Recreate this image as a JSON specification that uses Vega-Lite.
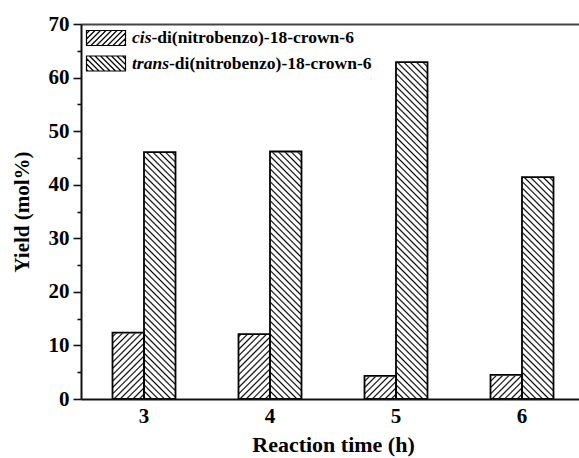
{
  "$schema": "https://vega.github.io/schema/vega-lite/v6.json",
  "width": 498,
  "height": 375,
  "autosize": {"type": "none"},
  "padding": {"left": 81, "top": 24, "right": 0, "bottom": 59},
  "background": "white",
  "config": {
    "view": {"stroke": null},
    "font": "Liberation Serif",
    "axis": {"grid": false, "zindex": 1}
  },
  "data": {
    "values": [
      {"time": "3", "series": "cis-di(nitrobenzo)-18-crown-6", "yield": 12.4},
      {"time": "3", "series": "trans-di(nitrobenzo)-18-crown-6", "yield": 46.1},
      {"time": "4", "series": "cis-di(nitrobenzo)-18-crown-6", "yield": 12.1},
      {"time": "4", "series": "trans-di(nitrobenzo)-18-crown-6", "yield": 46.2},
      {"time": "5", "series": "cis-di(nitrobenzo)-18-crown-6", "yield": 4.3},
      {"time": "5", "series": "trans-di(nitrobenzo)-18-crown-6", "yield": 62.9},
      {"time": "6", "series": "cis-di(nitrobenzo)-18-crown-6", "yield": 4.5},
      {"time": "6", "series": "trans-di(nitrobenzo)-18-crown-6", "yield": 41.4}
    ]
  },
  "resolve": {"axis": {"x": "independent", "y": "independent"}},
  "layer": [
    {
      "transform": [{"filter": "indexof(datum.series, 'cis') === 0"}],
      "mark": {
        "type": "bar",
        "stroke": null,
        "fill": {
          "gradient": "linear", "x1": 0, "y1": 0, "x2": 0.1413, "y2": 1.6819,
          "stops": [
{"offset":0,"color":"#fff"},{"offset":0.0025,"color":"#000"},{"offset":0.005,"color":"#fff"},
{"offset":0.01,"color":"#fff"},{"offset":0.0125,"color":"#000"},{"offset":0.015,"color":"#fff"},
{"offset":0.02,"color":"#fff"},{"offset":0.0225,"color":"#000"},{"offset":0.025,"color":"#fff"},
{"offset":0.03,"color":"#fff"},{"offset":0.0325,"color":"#000"},{"offset":0.035,"color":"#fff"},
{"offset":0.04,"color":"#fff"},{"offset":0.0425,"color":"#000"},{"offset":0.045,"color":"#fff"},
{"offset":0.05,"color":"#fff"},{"offset":0.0525,"color":"#000"},{"offset":0.055,"color":"#fff"},
{"offset":0.06,"color":"#fff"},{"offset":0.0625,"color":"#000"},{"offset":0.065,"color":"#fff"},
{"offset":0.07,"color":"#fff"},{"offset":0.0725,"color":"#000"},{"offset":0.075,"color":"#fff"},
{"offset":0.08,"color":"#fff"},{"offset":0.0825,"color":"#000"},{"offset":0.085,"color":"#fff"},
{"offset":0.09,"color":"#fff"},{"offset":0.0925,"color":"#000"},{"offset":0.095,"color":"#fff"},
{"offset":0.1,"color":"#fff"},{"offset":0.1025,"color":"#000"},{"offset":0.105,"color":"#fff"},
{"offset":0.11,"color":"#fff"},{"offset":0.1125,"color":"#000"},{"offset":0.115,"color":"#fff"},
{"offset":0.12,"color":"#fff"},{"offset":0.1225,"color":"#000"},{"offset":0.125,"color":"#fff"},
{"offset":0.13,"color":"#fff"},{"offset":0.1325,"color":"#000"},{"offset":0.135,"color":"#fff"},
{"offset":0.14,"color":"#fff"},{"offset":0.1425,"color":"#000"},{"offset":0.145,"color":"#fff"},
{"offset":0.15,"color":"#fff"},{"offset":0.1525,"color":"#000"},{"offset":0.155,"color":"#fff"},
{"offset":0.16,"color":"#fff"},{"offset":0.1625,"color":"#000"},{"offset":0.165,"color":"#fff"},
{"offset":0.17,"color":"#fff"},{"offset":0.1725,"color":"#000"},{"offset":0.175,"color":"#fff"},
{"offset":0.18,"color":"#fff"},{"offset":0.1825,"color":"#000"},{"offset":0.185,"color":"#fff"},
{"offset":0.19,"color":"#fff"},{"offset":0.1925,"color":"#000"},{"offset":0.195,"color":"#fff"},
{"offset":0.2,"color":"#fff"},{"offset":0.2025,"color":"#000"},{"offset":0.205,"color":"#fff"},
{"offset":0.21,"color":"#fff"},{"offset":0.2125,"color":"#000"},{"offset":0.215,"color":"#fff"},
{"offset":0.22,"color":"#fff"},{"offset":0.2225,"color":"#000"},{"offset":0.225,"color":"#fff"},
{"offset":0.23,"color":"#fff"},{"offset":0.2325,"color":"#000"},{"offset":0.235,"color":"#fff"},
{"offset":0.24,"color":"#fff"},{"offset":0.2425,"color":"#000"},{"offset":0.245,"color":"#fff"},
{"offset":0.25,"color":"#fff"},{"offset":0.2525,"color":"#000"},{"offset":0.255,"color":"#fff"},
{"offset":0.26,"color":"#fff"},{"offset":0.2625,"color":"#000"},{"offset":0.265,"color":"#fff"},
{"offset":0.27,"color":"#fff"},{"offset":0.2725,"color":"#000"},{"offset":0.275,"color":"#fff"},
{"offset":0.28,"color":"#fff"},{"offset":0.2825,"color":"#000"},{"offset":0.285,"color":"#fff"},
{"offset":0.29,"color":"#fff"},{"offset":0.2925,"color":"#000"},{"offset":0.295,"color":"#fff"},
{"offset":0.3,"color":"#fff"},{"offset":0.3025,"color":"#000"},{"offset":0.305,"color":"#fff"},
{"offset":0.31,"color":"#fff"},{"offset":0.3125,"color":"#000"},{"offset":0.315,"color":"#fff"},
{"offset":0.32,"color":"#fff"},{"offset":0.3225,"color":"#000"},{"offset":0.325,"color":"#fff"},
{"offset":0.33,"color":"#fff"},{"offset":0.3325,"color":"#000"},{"offset":0.335,"color":"#fff"},
{"offset":0.34,"color":"#fff"},{"offset":0.3425,"color":"#000"},{"offset":0.345,"color":"#fff"},
{"offset":0.35,"color":"#fff"},{"offset":0.3525,"color":"#000"},{"offset":0.355,"color":"#fff"},
{"offset":0.36,"color":"#fff"},{"offset":0.3625,"color":"#000"},{"offset":0.365,"color":"#fff"},
{"offset":0.37,"color":"#fff"},{"offset":0.3725,"color":"#000"},{"offset":0.375,"color":"#fff"},
{"offset":0.38,"color":"#fff"},{"offset":0.3825,"color":"#000"},{"offset":0.385,"color":"#fff"},
{"offset":0.39,"color":"#fff"},{"offset":0.3925,"color":"#000"},{"offset":0.395,"color":"#fff"},
{"offset":0.4,"color":"#fff"},{"offset":0.4025,"color":"#000"},{"offset":0.405,"color":"#fff"},
{"offset":0.41,"color":"#fff"},{"offset":0.4125,"color":"#000"},{"offset":0.415,"color":"#fff"},
{"offset":0.42,"color":"#fff"},{"offset":0.4225,"color":"#000"},{"offset":0.425,"color":"#fff"},
{"offset":0.43,"color":"#fff"},{"offset":0.4325,"color":"#000"},{"offset":0.435,"color":"#fff"},
{"offset":0.44,"color":"#fff"},{"offset":0.4425,"color":"#000"},{"offset":0.445,"color":"#fff"},
{"offset":0.45,"color":"#fff"},{"offset":0.4525,"color":"#000"},{"offset":0.455,"color":"#fff"},
{"offset":0.46,"color":"#fff"},{"offset":0.4625,"color":"#000"},{"offset":0.465,"color":"#fff"},
{"offset":0.47,"color":"#fff"},{"offset":0.4725,"color":"#000"},{"offset":0.475,"color":"#fff"},
{"offset":0.48,"color":"#fff"},{"offset":0.4825,"color":"#000"},{"offset":0.485,"color":"#fff"},
{"offset":0.49,"color":"#fff"},{"offset":0.4925,"color":"#000"},{"offset":0.495,"color":"#fff"},
{"offset":0.5,"color":"#fff"},{"offset":0.5025,"color":"#000"},{"offset":0.505,"color":"#fff"},
{"offset":0.51,"color":"#fff"},{"offset":0.5125,"color":"#000"},{"offset":0.515,"color":"#fff"},
{"offset":0.52,"color":"#fff"},{"offset":0.5225,"color":"#000"},{"offset":0.525,"color":"#fff"},
{"offset":0.53,"color":"#fff"},{"offset":0.5325,"color":"#000"},{"offset":0.535,"color":"#fff"},
{"offset":0.54,"color":"#fff"},{"offset":0.5425,"color":"#000"},{"offset":0.545,"color":"#fff"},
{"offset":0.55,"color":"#fff"},{"offset":0.5525,"color":"#000"},{"offset":0.555,"color":"#fff"},
{"offset":0.56,"color":"#fff"},{"offset":0.5625,"color":"#000"},{"offset":0.565,"color":"#fff"},
{"offset":0.57,"color":"#fff"},{"offset":0.5725,"color":"#000"},{"offset":0.575,"color":"#fff"},
{"offset":0.58,"color":"#fff"},{"offset":0.5825,"color":"#000"},{"offset":0.585,"color":"#fff"},
{"offset":0.59,"color":"#fff"},{"offset":0.5925,"color":"#000"},{"offset":0.595,"color":"#fff"},
{"offset":0.6,"color":"#fff"},{"offset":0.6025,"color":"#000"},{"offset":0.605,"color":"#fff"},
{"offset":0.61,"color":"#fff"},{"offset":0.6125,"color":"#000"},{"offset":0.615,"color":"#fff"},
{"offset":0.62,"color":"#fff"},{"offset":0.6225,"color":"#000"},{"offset":0.625,"color":"#fff"},
{"offset":0.63,"color":"#fff"},{"offset":0.6325,"color":"#000"},{"offset":0.635,"color":"#fff"}
          ]
        }
      },
      "encoding": {
        "x": {
          "field": "time", "type": "ordinal",
          "scale": {"range": [0, 504], "paddingInner": 0.5, "paddingOuter": 0.25},
          "axis": {"orient": "top", "labels": false, "ticks": false, "tickSize": 0, "title": null, "domainColor": "#444", "domainWidth": 2, "zindex": 1}
        },
        "xOffset": {"field": "series", "type": "nominal", "scale": {"paddingInner": 0}},
        "y": {"datum": 70, "type": "quantitative", "scale": {"domain": [0, 70]}, "axis": null}
      }
    },
    {
      "transform": [{"filter": "indexof(datum.series, 'trans') === 0"}],
      "mark": {
        "type": "bar",
        "stroke": null,
        "fill": {
          "gradient": "linear", "x1": 0, "y1": 1, "x2": 0.1413, "y2": -0.6819,
          "stops": [
{"offset":0,"color":"#fff"},{"offset":0.0025,"color":"#000"},{"offset":0.005,"color":"#fff"},
{"offset":0.01,"color":"#fff"},{"offset":0.0125,"color":"#000"},{"offset":0.015,"color":"#fff"},
{"offset":0.02,"color":"#fff"},{"offset":0.0225,"color":"#000"},{"offset":0.025,"color":"#fff"},
{"offset":0.03,"color":"#fff"},{"offset":0.0325,"color":"#000"},{"offset":0.035,"color":"#fff"},
{"offset":0.04,"color":"#fff"},{"offset":0.0425,"color":"#000"},{"offset":0.045,"color":"#fff"},
{"offset":0.05,"color":"#fff"},{"offset":0.0525,"color":"#000"},{"offset":0.055,"color":"#fff"},
{"offset":0.06,"color":"#fff"},{"offset":0.0625,"color":"#000"},{"offset":0.065,"color":"#fff"},
{"offset":0.07,"color":"#fff"},{"offset":0.0725,"color":"#000"},{"offset":0.075,"color":"#fff"},
{"offset":0.08,"color":"#fff"},{"offset":0.0825,"color":"#000"},{"offset":0.085,"color":"#fff"},
{"offset":0.09,"color":"#fff"},{"offset":0.0925,"color":"#000"},{"offset":0.095,"color":"#fff"},
{"offset":0.1,"color":"#fff"},{"offset":0.1025,"color":"#000"},{"offset":0.105,"color":"#fff"},
{"offset":0.11,"color":"#fff"},{"offset":0.1125,"color":"#000"},{"offset":0.115,"color":"#fff"},
{"offset":0.12,"color":"#fff"},{"offset":0.1225,"color":"#000"},{"offset":0.125,"color":"#fff"},
{"offset":0.13,"color":"#fff"},{"offset":0.1325,"color":"#000"},{"offset":0.135,"color":"#fff"},
{"offset":0.14,"color":"#fff"},{"offset":0.1425,"color":"#000"},{"offset":0.145,"color":"#fff"},
{"offset":0.15,"color":"#fff"},{"offset":0.1525,"color":"#000"},{"offset":0.155,"color":"#fff"},
{"offset":0.16,"color":"#fff"},{"offset":0.1625,"color":"#000"},{"offset":0.165,"color":"#fff"},
{"offset":0.17,"color":"#fff"},{"offset":0.1725,"color":"#000"},{"offset":0.175,"color":"#fff"},
{"offset":0.18,"color":"#fff"},{"offset":0.1825,"color":"#000"},{"offset":0.185,"color":"#fff"},
{"offset":0.19,"color":"#fff"},{"offset":0.1925,"color":"#000"},{"offset":0.195,"color":"#fff"},
{"offset":0.2,"color":"#fff"},{"offset":0.2025,"color":"#000"},{"offset":0.205,"color":"#fff"},
{"offset":0.21,"color":"#fff"},{"offset":0.2125,"color":"#000"},{"offset":0.215,"color":"#fff"},
{"offset":0.22,"color":"#fff"},{"offset":0.2225,"color":"#000"},{"offset":0.225,"color":"#fff"},
{"offset":0.23,"color":"#fff"},{"offset":0.2325,"color":"#000"},{"offset":0.235,"color":"#fff"},
{"offset":0.24,"color":"#fff"},{"offset":0.2425,"color":"#000"},{"offset":0.245,"color":"#fff"},
{"offset":0.25,"color":"#fff"},{"offset":0.2525,"color":"#000"},{"offset":0.255,"color":"#fff"},
{"offset":0.26,"color":"#fff"},{"offset":0.2625,"color":"#000"},{"offset":0.265,"color":"#fff"},
{"offset":0.27,"color":"#fff"},{"offset":0.2725,"color":"#000"},{"offset":0.275,"color":"#fff"},
{"offset":0.28,"color":"#fff"},{"offset":0.2825,"color":"#000"},{"offset":0.285,"color":"#fff"},
{"offset":0.29,"color":"#fff"},{"offset":0.2925,"color":"#000"},{"offset":0.295,"color":"#fff"},
{"offset":0.3,"color":"#fff"},{"offset":0.3025,"color":"#000"},{"offset":0.305,"color":"#fff"},
{"offset":0.31,"color":"#fff"},{"offset":0.3125,"color":"#000"},{"offset":0.315,"color":"#fff"},
{"offset":0.32,"color":"#fff"},{"offset":0.3225,"color":"#000"},{"offset":0.325,"color":"#fff"},
{"offset":0.33,"color":"#fff"},{"offset":0.3325,"color":"#000"},{"offset":0.335,"color":"#fff"},
{"offset":0.34,"color":"#fff"},{"offset":0.3425,"color":"#000"},{"offset":0.345,"color":"#fff"},
{"offset":0.35,"color":"#fff"},{"offset":0.3525,"color":"#000"},{"offset":0.355,"color":"#fff"},
{"offset":0.36,"color":"#fff"},{"offset":0.3625,"color":"#000"},{"offset":0.365,"color":"#fff"},
{"offset":0.37,"color":"#fff"},{"offset":0.3725,"color":"#000"},{"offset":0.375,"color":"#fff"},
{"offset":0.38,"color":"#fff"},{"offset":0.3825,"color":"#000"},{"offset":0.385,"color":"#fff"},
{"offset":0.39,"color":"#fff"},{"offset":0.3925,"color":"#000"},{"offset":0.395,"color":"#fff"},
{"offset":0.4,"color":"#fff"},{"offset":0.4025,"color":"#000"},{"offset":0.405,"color":"#fff"},
{"offset":0.41,"color":"#fff"},{"offset":0.4125,"color":"#000"},{"offset":0.415,"color":"#fff"},
{"offset":0.42,"color":"#fff"},{"offset":0.4225,"color":"#000"},{"offset":0.425,"color":"#fff"},
{"offset":0.43,"color":"#fff"},{"offset":0.4325,"color":"#000"},{"offset":0.435,"color":"#fff"},
{"offset":0.44,"color":"#fff"},{"offset":0.4425,"color":"#000"},{"offset":0.445,"color":"#fff"},
{"offset":0.45,"color":"#fff"},{"offset":0.4525,"color":"#000"},{"offset":0.455,"color":"#fff"},
{"offset":0.46,"color":"#fff"},{"offset":0.4625,"color":"#000"},{"offset":0.465,"color":"#fff"},
{"offset":0.47,"color":"#fff"},{"offset":0.4725,"color":"#000"},{"offset":0.475,"color":"#fff"},
{"offset":0.48,"color":"#fff"},{"offset":0.4825,"color":"#000"},{"offset":0.485,"color":"#fff"},
{"offset":0.49,"color":"#fff"},{"offset":0.4925,"color":"#000"},{"offset":0.495,"color":"#fff"},
{"offset":0.5,"color":"#fff"},{"offset":0.5025,"color":"#000"},{"offset":0.505,"color":"#fff"},
{"offset":0.51,"color":"#fff"},{"offset":0.5125,"color":"#000"},{"offset":0.515,"color":"#fff"},
{"offset":0.52,"color":"#fff"},{"offset":0.5225,"color":"#000"},{"offset":0.525,"color":"#fff"},
{"offset":0.53,"color":"#fff"},{"offset":0.5325,"color":"#000"},{"offset":0.535,"color":"#fff"},
{"offset":0.54,"color":"#fff"},{"offset":0.5425,"color":"#000"},{"offset":0.545,"color":"#fff"},
{"offset":0.55,"color":"#fff"},{"offset":0.5525,"color":"#000"},{"offset":0.555,"color":"#fff"},
{"offset":0.56,"color":"#fff"},{"offset":0.5625,"color":"#000"},{"offset":0.565,"color":"#fff"},
{"offset":0.57,"color":"#fff"},{"offset":0.5725,"color":"#000"},{"offset":0.575,"color":"#fff"},
{"offset":0.58,"color":"#fff"},{"offset":0.5825,"color":"#000"},{"offset":0.585,"color":"#fff"},
{"offset":0.59,"color":"#fff"},{"offset":0.5925,"color":"#000"},{"offset":0.595,"color":"#fff"},
{"offset":0.6,"color":"#fff"},{"offset":0.6025,"color":"#000"},{"offset":0.605,"color":"#fff"},
{"offset":0.61,"color":"#fff"},{"offset":0.6125,"color":"#000"},{"offset":0.615,"color":"#fff"},
{"offset":0.62,"color":"#fff"},{"offset":0.6225,"color":"#000"},{"offset":0.625,"color":"#fff"},
{"offset":0.63,"color":"#fff"},{"offset":0.6325,"color":"#000"},{"offset":0.635,"color":"#fff"}
          ]
        }
      },
      "encoding": {
        "x": {"field": "time", "type": "ordinal", "scale": {"range": [0, 504], "paddingInner": 0.5, "paddingOuter": 0.25}, "axis": null},
        "xOffset": {"field": "series", "type": "nominal", "scale": {"paddingInner": 0}},
        "y": {"datum": 70, "type": "quantitative", "axis": null}
      }
    },
    {
      "mark": {"type": "bar", "fill": "#fff", "stroke": "#fff", "strokeWidth": 1.5},
      "encoding": {
        "x": {"field": "time", "type": "ordinal", "scale": {"range": [0, 504], "paddingInner": 0.5, "paddingOuter": 0.25}, "axis": null},
        "xOffset": {"field": "series", "type": "nominal", "scale": {"paddingInner": 0}},
        "y": {
          "field": "yield", "type": "quantitative", "stack": null,
          "axis": {
            "orient": "left", "values": [5, 15, 25, 35, 45, 55, 65],
            "labels": false, "domain": false, "title": null,
            "tickSize": 4, "tickWidth": 1.6, "tickColor": "#111", "zindex": 1
          }
        },
        "y2": {"datum": 70},
        "opacity": {
          "field": "series", "type": "nominal",
          "scale": {"domain": ["cis-di(nitrobenzo)-18-crown-6", "trans-di(nitrobenzo)-18-crown-6"], "range": [1, 1]},
          "legend": {
            "orient": "none", "legendX": 14, "legendY": 3, "title": null, "padding": 0,
            "symbolSize": 400, "symbolStrokeWidth": 1.2, "symbolOpacity": 0,
            "symbolType": "M-1.95,-0.75L1.95,-0.75L1.95,0.75L-1.95,0.75Z",
            "labelFont": "Liberation Serif", "labelFontSize": 17.5, "labelFontWeight": "bold",
            "labelColor": "#000", "labelLimit": 400, "rowPadding": 4.5,
            "labelOffset": {"expr": "indexof(datum.value, 'cis') === 0 ? 34.4 : 52"},
            "labelExpr": "'-di(nitrobenzo)-18-crown-6'"
          }
        }
      }
    },
    {
      "mark": {"type": "bar", "fill": "transparent", "strokeWidth": 1.8},
      "encoding": {
        "x": {
          "field": "time", "type": "ordinal",
          "scale": {"range": [0, 504], "paddingInner": 0.5, "paddingOuter": 0.25},
          "axis": {
            "orient": "bottom",
            "title": "Reaction time (h)",
            "titleFont": "Liberation Serif", "titleFontSize": 22, "titleFontWeight": "bold",
            "titleColor": "#000", "titlePadding": 8,
            "labelFont": "Liberation Serif", "labelFontSize": 21, "labelFontWeight": "bold",
            "labelColor": "#000", "labelAngle": 0, "labelPadding": 6,
            "ticks": false, "tickSize": 0,
            "domainColor": "#111", "domainWidth": 2, "zindex": 1
          }
        },
        "xOffset": {"field": "series", "type": "nominal", "scale": {"paddingInner": 0}},
        "y": {
          "field": "yield", "type": "quantitative", "stack": null,
          "axis": {
            "orient": "left", "values": [0, 10, 20, 30, 40, 50, 60, 70],
            "title": "Yield (mol%)",
            "titleFont": "Liberation Serif", "titleFontSize": 21, "titleFontWeight": "bold",
            "titleColor": "#000", "titlePadding": 16,
            "labelFont": "Liberation Serif", "labelFontSize": 21, "labelFontWeight": "bold",
            "labelColor": "#000", "labelPadding": 4,
            "tickSize": 8, "tickWidth": 1.6, "tickColor": "#111",
            "domainColor": "#111", "domainWidth": 2, "zindex": 1
          }
        },
        "stroke": {
          "field": "series", "type": "nominal",
          "scale": {"range": ["#000", "#000"]},
          "legend": {
            "orient": "none", "legendX": 14, "legendY": 3, "title": null, "padding": 0,
            "symbolSize": 400, "symbolStrokeWidth": 1.2, "symbolFillColor": "transparent",
            "symbolStrokeColor": "#000",
            "symbolType": {"expr": "indexof(datum.value, 'cis') === 0 ? 'M-1.95,-0.75L1.95,-0.75L1.95,0.75L-1.95,0.75ZM-1.95,-0.45L-1.65,-0.75M-1.95,0.1L-1.1,-0.75M-1.95,0.65L-0.55,-0.75M-1.5,0.75L0,-0.75M-0.95,0.75L0.55,-0.75M-0.4,0.75L1.1,-0.75M0.15,0.75L1.65,-0.75M0.7,0.75L1.95,-0.5M1.25,0.75L1.95,0.05M1.8,0.75L1.95,0.6' : 'M-1.95,-0.75L1.95,-0.75L1.95,0.75L-1.95,0.75ZM1.95,-0.45L1.65,-0.75M1.95,0.1L1.1,-0.75M1.95,0.65L0.55,-0.75M1.5,0.75L0,-0.75M0.95,0.75L-0.55,-0.75M0.4,0.75L-1.1,-0.75M-0.15,0.75L-1.65,-0.75M-0.7,0.75L-1.95,-0.5M-1.25,0.75L-1.95,0.05M-1.8,0.75L-1.95,0.6'"},
            "labelFont": "Liberation Serif", "labelFontSize": 17.5, "labelFontWeight": "bold",
            "labelFontStyle": "italic",
            "labelColor": "#000", "labelOffset": 15, "labelLimit": 400, "rowPadding": 4.5,
            "labelExpr": "split(datum.label, '-')[0]"
          }
        }
      }
    }
  ]
}
